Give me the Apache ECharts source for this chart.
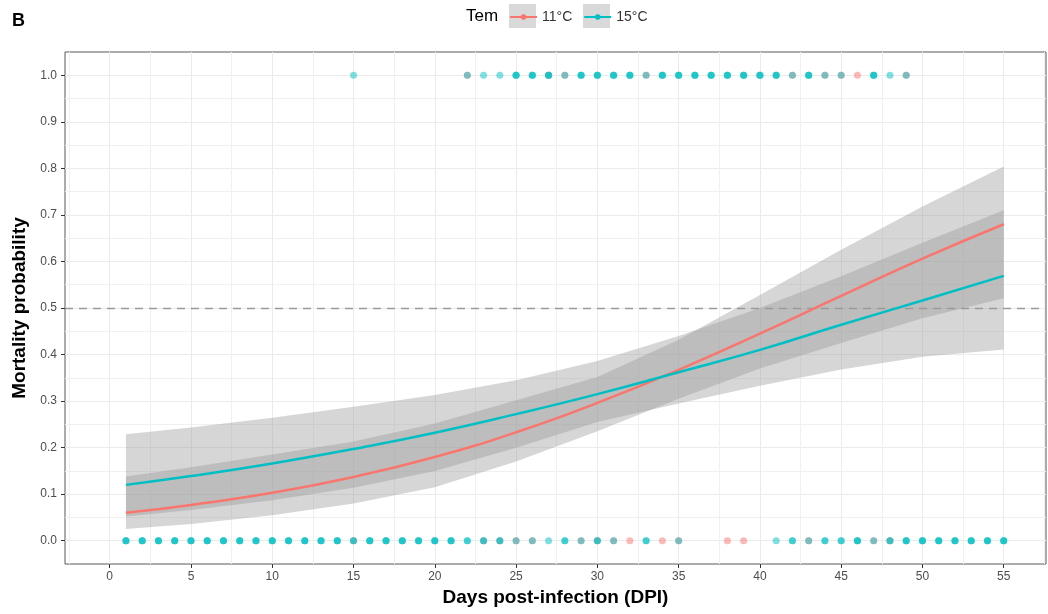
<!DOCTYPE html>
<html>
<head>
<meta charset="utf-8">
<title>Mortality probability</title>
<script src="https://cdn.jsdelivr.net/npm/echarts@6/dist/echarts.min.js"></script>
<style>
  html, body { margin: 0; padding: 0; background: #fff; }
  #main { width: 1048px; height: 614px; }
</style>
</head>
<body>
<div id="main"></div>
<script>
// fitted curves + confidence bands, read at these days
var days = [1, 5, 10, 15, 20, 25, 30, 35, 40, 45, 50, 55];
var fit11 = [0.060, 0.077, 0.103, 0.137, 0.180, 0.233, 0.296, 0.367, 0.445, 0.526, 0.606, 0.680];
var lo11 = [0.025, 0.036, 0.055, 0.080, 0.115, 0.170, 0.235, 0.305, 0.370, 0.425, 0.478, 0.521];
var hi11 = [0.138, 0.158, 0.185, 0.213, 0.252, 0.302, 0.352, 0.432, 0.528, 0.625, 0.718, 0.804];
var fit15 = [0.120, 0.139, 0.166, 0.197, 0.232, 0.272, 0.315, 0.362, 0.410, 0.464, 0.516, 0.569];
var lo15 = [0.052, 0.066, 0.087, 0.114, 0.150, 0.200, 0.255, 0.295, 0.333, 0.368, 0.395, 0.411];
var hi15 = [0.229, 0.243, 0.264, 0.288, 0.313, 0.345, 0.386, 0.440, 0.500, 0.568, 0.640, 0.710];

// observed fish: dead (1) / alive (0), counts = how many overlap on that day
var dead11Days = [22, 27, 28, 33, 42, 44, 45, 46, 49];
var dead15Days = [15, 22, 23, 24, 25, 26, 27, 28, 29, 30, 31, 32, 33, 34, 35, 36, 37, 38, 39, 40, 41, 42, 43, 44, 45, 47, 48, 49];
var dead15Counts = [1, 1, 1, 1, 3, 3, 3, 1, 3, 3, 3, 3, 1, 3, 3, 3, 3, 3, 3, 3, 3, 1, 3, 1, 1, 3, 1, 1];
var alive11Days = [15, 23, 24, 25, 26, 29, 30, 31, 32, 34, 35, 38, 39, 43, 47, 48];
var alive15Days = [1, 2, 3, 4, 5, 6, 7, 8, 9, 10, 11, 12, 13, 14, 15, 16, 17, 18, 19, 20, 21, 22, 23, 24, 25, 26, 27, 28, 29, 30, 31,
  33, 35, 41, 42, 43, 44, 45, 46, 47, 48, 49, 50, 51, 52, 53, 54, 55];
var alive15Counts = [3, 3, 3, 3, 3, 3, 3, 3, 3, 3, 3, 3, 3, 3, 2, 3, 3, 3, 3, 3, 3, 2, 2, 2, 1, 1, 1, 2, 1, 2, 1,
  2, 1, 1, 2, 1, 2, 2, 3, 1, 2, 3, 3, 3, 3, 3, 3, 3];

// axis ticks
var xTicks = [0, 5, 10, 15, 20, 25, 30, 35, 40, 45, 50, 55];
var xMinor = [-2.5, 2.5, 7.5, 12.5, 17.5, 22.5, 27.5, 32.5, 37.5, 42.5, 47.5, 52.5, 57.5];
var yTicks = [0, 0.1, 0.2, 0.3, 0.4, 0.5, 0.6, 0.7, 0.8, 0.9, 1.0];
var yMinor = [0.05, 0.15, 0.25, 0.35, 0.45, 0.55, 0.65, 0.75, 0.85, 0.95];

var FONT = 'Liberation Sans, Arial, Helvetica, sans-serif';
var RED = '#F8766D', TEAL = '#00BFC4';

function points(dayArr, countArr, y) {
  var out = [];
  for (var i = 0; i < dayArr.length; i++) {
    var n = countArr ? countArr[i] : 1;
    for (var k = 0; k < n; k++) out.push([dayArr[i], y]);
  }
  return out;
}

function zip(xs, ys) {
  var out = [];
  for (var i = 0; i < xs.length; i++) out.push([xs[i], ys[i]]);
  return out;
}

// ribbon as one polygon through the axis scales
function band(name, lo, hi) {
  return {
    name: name,
    type: 'custom',
    silent: true,
    z: 2,
    data: [[days[0], lo[0]]],
    renderItem: function (params, api) {
      var pts = [];
      for (var i = 0; i < days.length; i++) pts.push(api.coord([days[i], hi[i]]));
      for (var j = days.length - 1; j >= 0; j--) pts.push(api.coord([days[j], lo[j]]));
      return {
        type: 'polygon',
        shape: { points: pts },
        style: { fill: 'rgba(153,153,153,0.4)' }
      };
    }
  };
}

var myChart = echarts.init(document.getElementById('main'), null, { renderer: 'canvas' });

var option = {
  animation: false,
  backgroundColor: '#fff',
  textStyle: { fontFamily: FONT },
  grid: {
    left: 65, right: 2, top: 52, bottom: 50,
    show: true, borderColor: '#595959', borderWidth: 1,
    backgroundColor: 'transparent',
    outerBoundsMode: 'none'
  },
  graphic: [
    { type: 'text', left: 12, top: 12, style: { text: 'B', font: 'bold 18px ' + FONT, fill: '#000' } },
    { type: 'text', x: 466, y: 16, style: { text: 'Tem', font: '17px ' + FONT, fill: '#000', verticalAlign: 'middle' } },
    { type: 'rect', z: 0, shape: { x: 509, y: 4, width: 27, height: 24 }, style: { fill: '#d9d9d9' } },
    { type: 'rect', z: 0, shape: { x: 583, y: 4, width: 27, height: 24 }, style: { fill: '#d9d9d9' } }
  ],
  legend: {
    data: ['11°C', '15°C'],
    left: 504, top: 5,
    itemWidth: 27, itemHeight: 7, itemGap: 11,
    selectedMode: false,
    textStyle: { fontSize: 14, color: '#333', fontFamily: FONT }
  },
  xAxis: [{
    type: 'value', min: -2.75, max: 57.6,
    name: 'Days post-infection (DPI)', nameLocation: 'middle', nameGap: 24,
    nameTextStyle: { fontSize: 19, fontWeight: 'bold', color: '#000', fontFamily: FONT },
    axisLine: { show: false, onZero: false },
    axisTick: { show: true, length: 4, customValues: xTicks, lineStyle: { color: '#333' } },
    axisLabel: { customValues: xTicks, margin: 7, fontSize: 12, color: '#4d4d4d', fontFamily: FONT },
    splitLine: { show: true, lineStyle: { color: '#ebebeb', width: 1 } }
  }, {
    type: 'value', min: -2.75, max: 57.6, position: 'top',
    axisLine: { show: false, onZero: false }, axisLabel: { show: false },
    axisTick: { show: false, customValues: xMinor },
    splitLine: { show: true, lineStyle: { color: '#f0f0f0', width: 1 } }
  }],
  yAxis: [{
    type: 'value', min: -0.05, max: 1.05, interval: 0.05,
    name: 'Mortality probability', nameLocation: 'middle', nameGap: 34,
    nameTextStyle: { fontSize: 19, fontWeight: 'bold', color: '#000', fontFamily: FONT },
    axisLine: { show: false, onZero: false },
    axisTick: { show: true, length: 4, customValues: yTicks, lineStyle: { color: '#333' } },
    axisLabel: {
      customValues: yTicks, margin: 8, fontSize: 12, color: '#4d4d4d', fontFamily: FONT,
      formatter: function (v) { return v.toFixed(1); }
    },
    splitLine: { show: true, lineStyle: { color: '#ebebeb', width: 1 } }
  }, {
    type: 'value', min: -0.05, max: 1.05, interval: 0.05, position: 'right',
    axisLine: { show: false, onZero: false }, axisLabel: { show: false },
    axisTick: { show: false, customValues: yMinor },
    splitLine: { show: true, lineStyle: { color: '#f0f0f0', width: 1 } }
  }],
  series: [
    {
      name: 'obs11', type: 'scatter', z: 3, silent: true,
      symbolSize: 7,
      itemStyle: { color: RED, opacity: 0.5 },
      data: points(dead11Days, null, 1).concat(points(alive11Days, null, 0))
    },
    {
      name: 'obs15', type: 'scatter', z: 3, silent: true,
      symbolSize: 7,
      itemStyle: { color: TEAL, opacity: 0.5 },
      data: points(dead15Days, dead15Counts, 1).concat(points(alive15Days, alive15Counts, 0))
    },
    band('band11', lo11, hi11),
    band('band15', lo15, hi15),
    {
      name: '11°C', type: 'line', z: 5, smooth: true,
      symbol: 'circle', showSymbol: false, symbolSize: 6,
      itemStyle: { color: RED },
      lineStyle: { color: RED, width: 2.5 },
      data: zip(days, fit11),
      markLine: {
        silent: true, symbol: 'none', label: { show: false },
        lineStyle: { color: '#9a9a9a', type: [8, 6], width: 1.3 },
        data: [{ yAxis: 0.5 }]
      }
    },
    {
      name: '15°C', type: 'line', z: 5, smooth: true,
      symbol: 'circle', showSymbol: false, symbolSize: 6,
      itemStyle: { color: TEAL },
      lineStyle: { color: TEAL, width: 2.5 },
      data: zip(days, fit15)
    }
  ]
};

myChart.setOption(option);
</script>
</body>
</html>
